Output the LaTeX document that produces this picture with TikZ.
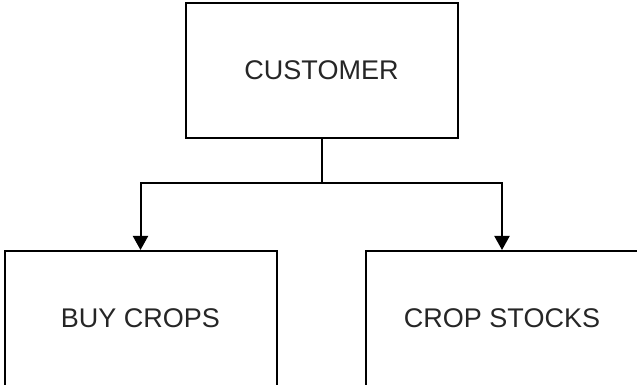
\documentclass[tikz,border=0pt]{standalone}
\usepackage{fontspec}
\setmainfont{Liberation Sans}
\usetikzlibrary{shapes.geometric, arrows, arrows.meta, positioning}

\begin{document}
\begin{tikzpicture}[x=1pt,y=1pt,
  box/.style={draw, line width=2pt, minimum width=272pt, minimum height=135pt,
    inner sep=0pt, text=black!85, font=\fontsize{27}{32}\selectfont},
  link/.style={line width=2pt},
  arrow/.style={line width=2pt, -{Triangle[width=15pt,length=14pt]}}]
\useasboundingbox (0,0) rectangle (637,385);
\node[box] (customer) at (321.5,314.5) {CUSTOMER};
\node[box] (buycrops) at (140.5,66.5) {BUY CROPS};
\node[box] (cropstocks) at (502,66.5) {CROP STOCKS};
\coordinate (split) at (321.5,202);
\draw[link] (customer.south) -- (split);
\draw[arrow] (split) -| (buycrops.north);
\draw[arrow] (split) -| (cropstocks.north);
\end{tikzpicture}
\end{document}
